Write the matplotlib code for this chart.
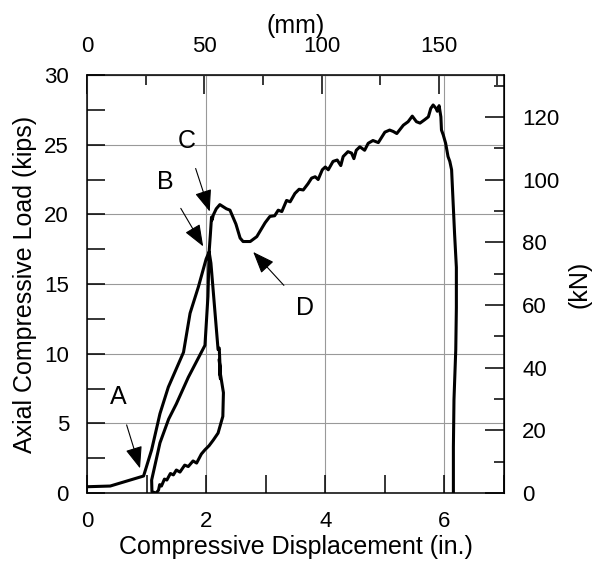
import numpy as np
import matplotlib.pyplot as plt
from matplotlib.ticker import MultipleLocator, FixedLocator

plt.rcParams['font.family'] = ['Liberation Sans', 'DejaVu Sans']

# Load-displacement record (in., kips)
disp = [0.0, 0.39, 0.95, 1.085, 1.225, 1.365, 1.62, 1.73, 1.87, 2.0, 2.05,
        2.08, 2.2, 2.22, 2.24, 2.22, 2.24, 2.23, 2.29, 2.28, 2.2, 2.12, 2.05,
        1.98, 1.92, 1.84, 1.78, 1.7, 1.64, 1.56, 1.5, 1.45, 1.4, 1.34, 1.3,
        1.25, 1.22, 1.2, 1.16, 1.12, 1.09, 1.085,
        1.225, 1.37, 1.5, 1.7, 1.98, 2.03, 2.05, 2.07, 2.09, 2.1, 2.12, 2.17,
        2.23, 2.34, 2.4, 2.5, 2.57, 2.62, 2.74,
        2.85, 2.99, 3.07, 3.15, 3.21, 3.27, 3.35, 3.41, 3.49, 3.56, 3.63, 3.71,
        3.77, 3.83, 3.88, 3.95, 4.0, 4.05, 4.13, 4.2, 4.26, 4.3, 4.38, 4.44,
        4.48, 4.52, 4.58, 4.66, 4.72, 4.8, 4.89, 5.0, 5.08, 5.14, 5.2, 5.31,
        5.39, 5.46, 5.53, 5.59, 5.67, 5.73, 5.77, 5.81, 5.86, 5.88, 5.91, 5.94,
        5.95, 5.98, 6.02, 6.06, 6.09, 6.12, 6.17, 6.2, 6.2, 6.19, 6.16, 6.15,
        6.15]
load = [0.45, 0.5, 1.22, 3.1, 5.7, 7.6, 10.1, 12.9, 14.8, 16.8, 17.3,
        16.5, 10.3, 10.4, 8.4, 9.6, 8.2, 8.8, 7.2, 5.5, 4.3, 3.8, 3.4,
        3.1, 2.8, 2.15, 2.3, 1.9, 2.0, 1.5, 1.65, 1.3, 1.4, 0.93, 1.0,
        0.5, 0.6, 0.2, 0.0, 0.05, 0.1, 0.93,
        3.6, 5.3, 6.4, 8.3, 10.6, 14.1, 17.3, 18.5, 19.8, 19.6, 19.95, 20.4,
        20.7, 20.4, 20.3, 19.3, 18.3, 18.05, 18.05,
        18.4, 19.4, 19.85, 19.9, 20.3, 20.2, 21.0, 20.9, 21.5, 21.8, 21.75, 22.2,
        22.6, 22.7, 22.5, 23.2, 23.4, 23.2, 23.8, 23.9, 23.5, 24.15, 24.5, 24.4,
        24.0, 24.6, 24.85, 24.6, 25.1, 25.3, 25.15, 25.9, 26.05, 25.95, 25.8, 26.4,
        26.65, 27.05, 26.65, 26.55, 26.8, 27.0, 27.6, 27.85, 27.6, 27.4, 27.8, 27.0,
        26.05, 25.7, 25.1, 24.15, 23.8, 23.2, 18.6, 16.2, 13.3, 10.3, 6.7, 3.3,
        0.0]

# Event labels: (label, arrow tip, text position)
events = [('A', (0.89, 1.77), (0.52, 6.9)),
          ('B', (1.95, 17.7), (1.31, 22.35)),
          ('C', (2.06, 20.2), (1.67, 25.3)),
          ('D', (2.79, 17.3), (3.66, 13.25))]

mm_major = [0, 50, 100, 150]
mm_minor = [25, 75, 125, 175]
kn_major = [0, 20, 40, 60, 80, 100, 120]
kn_minor = [10, 30, 50, 70, 90, 110, 130]

fig = plt.figure(figsize=(6.05, 5.71), dpi=100)
ax = fig.add_axes([0.1438, 0.1366, 0.6893, 0.7320])

ax.plot(disp, load, color='black', lw=2.2, solid_joinstyle='round', zorder=3)

for lab, tip, txt in events:
    ax.annotate(lab, xy=tip, xytext=txt, fontsize=18, ha='center', va='center',
                arrowprops=dict(arrowstyle='-|>,head_length=0.9,head_width=0.35',
                                mutation_scale=15, color='black', lw=0.8,
                                shrinkA=10, shrinkB=0))

ax.set_xlim(0, 7)
ax.set_ylim(0, 30)
ax.xaxis.set_major_locator(MultipleLocator(2))
ax.xaxis.set_minor_locator(MultipleLocator(1))
ax.yaxis.set_major_locator(MultipleLocator(5))
ax.yaxis.set_minor_locator(MultipleLocator(2.5))
ax.grid(True, which='major', color='#999999', lw=0.8)
ax.tick_params(which='both', direction='in', length=13, width=1.1,
               labelsize=16, pad=13)
for s in ax.spines.values():
    s.set_linewidth(1.1)
ax.set_xlabel('Compressive Displacement (in.)', fontsize=18, labelpad=2)
ax.set_ylabel('Axial Compressive Load (kips)', fontsize=18, labelpad=5)

# Metric axes
top = ax.secondary_xaxis('top', functions=(lambda x: x * 25.4, lambda x: x / 25.4))
top.xaxis.set_major_locator(FixedLocator(mm_major))
top.xaxis.set_minor_locator(FixedLocator(mm_minor))
top.tick_params(which='major', direction='in', length=14, width=1.1,
                labelsize=16, pad=13)
top.tick_params(which='minor', direction='in', length=7, width=1.1)
top.set_xlabel('(mm)', fontsize=18, labelpad=2)

right = ax.secondary_yaxis('right', functions=(lambda y: y * 4.448, lambda y: y / 4.448))
right.yaxis.set_major_locator(FixedLocator(kn_major))
right.yaxis.set_minor_locator(FixedLocator(kn_minor))
right.tick_params(which='major', direction='in', length=14, width=1.1,
                  labelsize=16, pad=13)
right.tick_params(which='minor', direction='in', length=7, width=1.1)
right.set_ylabel('(kN)', fontsize=18, labelpad=6)

fig.savefig('out.png', dpi=100)
